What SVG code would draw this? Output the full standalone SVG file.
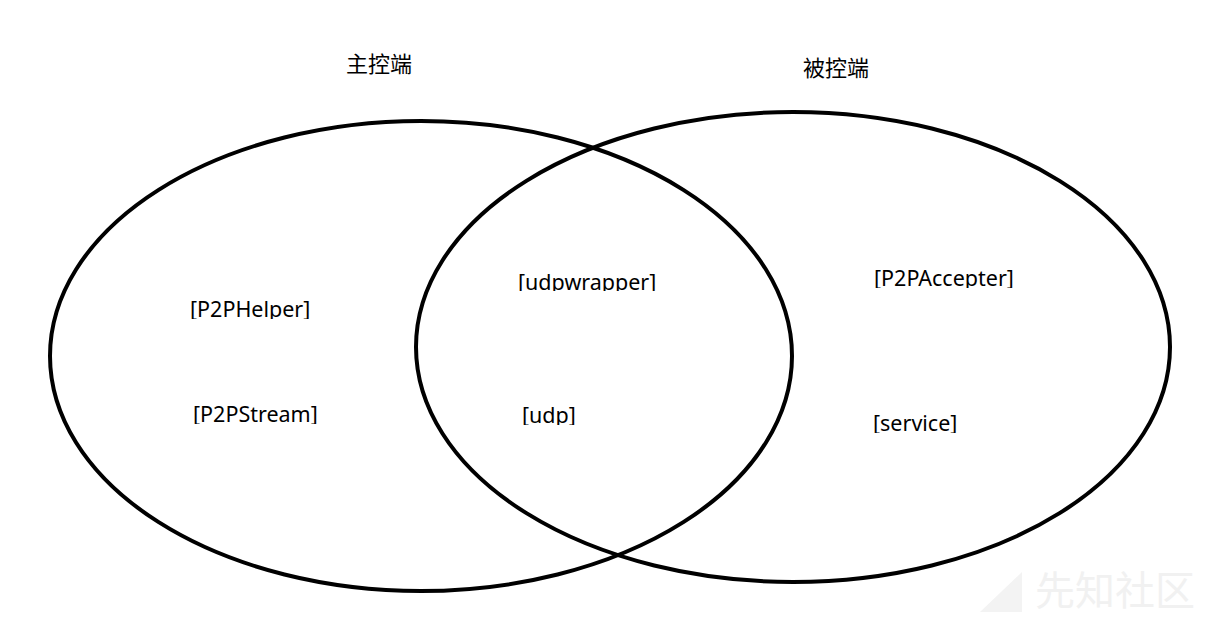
<svg xmlns="http://www.w3.org/2000/svg" width="1222" height="619" viewBox="0 0 1222 619">
<style>
.ring{fill:none;stroke:#000;stroke-width:4}
.lbl{font-family:"Noto Sans","Open Sans","Liberation Sans",sans-serif;font-size:21.5px;fill:#000}
.ttl{font-family:"Noto Sans CJK SC","Noto Sans",sans-serif;font-size:22px;fill:#000}
.wm{font-family:"Noto Sans CJK SC",sans-serif;font-size:40px;fill:#f1f1f1}
</style>
<defs>
<clipPath id="c1"><rect x="150" y="280" width="200" height="39"/></clipPath>
<clipPath id="c2"><rect x="150" y="390" width="200" height="34"/></clipPath>
<clipPath id="c3"><rect x="480" y="255" width="220" height="36"/></clipPath>
<clipPath id="c4"><rect x="480" y="390" width="140" height="35"/></clipPath>
<clipPath id="c5"><rect x="850" y="255" width="200" height="33"/></clipPath>
<clipPath id="c6"><rect x="850" y="395" width="150" height="38"/></clipPath>
</defs>
<rect width="1222" height="619" fill="#fff"/>
<g id="watermark">
<polygon points="980,612 1022,572 1022,612" fill="#f3f3f3"/>
<text class="wm" x="1035" y="605">先知社区</text>
</g>
<g id="connectors"></g>
<g id="master">
<ellipse class="ring" cx="421" cy="356" rx="371" ry="235"/>
<text class="ttl" x="346" y="72">主控端</text>
</g>
<g id="slave">
<ellipse class="ring" cx="793" cy="347" rx="377" ry="235"/>
<text class="ttl" x="803" y="76">被控端</text>
</g>
<g id="n-p2phelper"><text class="lbl" x="190" y="317" clip-path="url(#c1)">[P2PHelper]</text></g>
<g id="n-p2pstream"><text class="lbl" x="193" y="422" clip-path="url(#c2)">[P2PStream]</text></g>
<g id="n-udpwrapper"><text class="lbl" x="518" y="290" clip-path="url(#c3)">[udpwrapper]</text></g>
<g id="n-udp"><text class="lbl" x="522" y="423" clip-path="url(#c4)">[udp]</text></g>
<g id="n-p2paccepter"><text class="lbl" x="874" y="286" clip-path="url(#c5)">[P2PAccepter]</text></g>
<g id="n-service"><text class="lbl" x="873" y="431" clip-path="url(#c6)">[service]</text></g>
</svg>
